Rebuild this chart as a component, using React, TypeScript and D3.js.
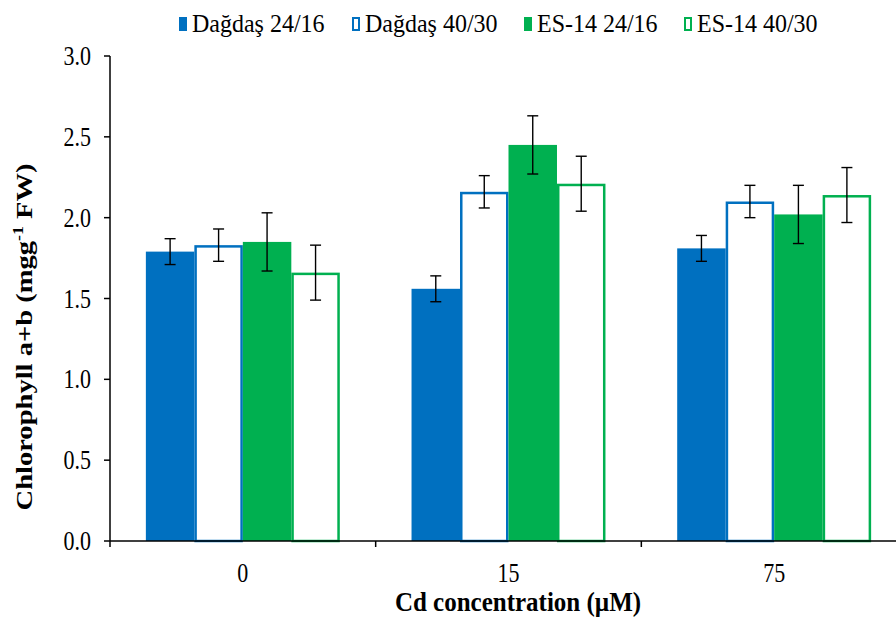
import * as d3 from "d3";

// Cd concentration (µM)
const categories = ["0", "15", "75"];
const seriesNames = ["Dağdaş 24/16", "Dağdaş 40/30", "ES-14 24/16", "ES-14 40/30"];

// chlorophyll a+b (mg g-1 FW)
const dagdas2416 = [1.79, 1.56, 1.81];
const dagdas4030 = [1.83, 2.16, 2.1];
const es2416 = [1.85, 2.45, 2.02];
const es4030 = [1.66, 2.21, 2.14];

// error bar half-lengths
const dagdas2416Err = [0.08, 0.08, 0.08];
const dagdas4030Err = [0.1, 0.1, 0.1];
const es2416Err = [0.18, 0.18, 0.18];
const es4030Err = [0.17, 0.17, 0.17];

const yTicks = [0, 0.5, 1, 1.5, 2, 2.5, 3];

const BLUE = "#0070C0";
const GREEN = "#00B050";
const FONT = "Liberation Serif, Times New Roman, serif";

const seriesStyle = [
  { fill: BLUE, stroke: "none" },
  { fill: "#ffffff", stroke: BLUE },
  { fill: GREEN, stroke: "none" },
  { fill: "#ffffff", stroke: GREEN },
];

// the source figure's text is a bit stretched vertically
function SText({ x, y, anchor = "start", size = 22, sy = 1, weight = "normal", children }: any) {
  return (
    <text
      transform={`translate(${x},${y}) scale(1,${sy})`}
      textAnchor={anchor}
      style={{ fontFamily: FONT, fontSize: size, fontWeight: weight }}
      fill="#000"
    >
      {children}
    </text>
  );
}

export default function App() {
  const width = 896;
  const height = 618;
  const plotLeft = 110;
  const plotRight = 907; // chart continues past the image edge
  const plotTop = 56;
  const plotBottom = 541;

  const values = [dagdas2416, dagdas4030, es2416, es4030];
  const errors = [dagdas2416Err, dagdas4030Err, es2416Err, es4030Err];

  const x0 = d3.scaleBand<string>().domain(categories).range([plotLeft, plotRight]).paddingInner(0.27).paddingOuter(0.135);
  const x1 = d3.scaleBand<string>().domain(seriesNames).range([0, x0.bandwidth()]).padding(0);
  const y = d3.scaleLinear().domain([0, 3]).range([plotBottom, plotTop]);
  const step = x0.step();
  const boundaries = categories.map((_, i) => plotLeft + i * step).concat([plotLeft + categories.length * step]);

  const legendX = [179, 352, 524, 684];

  return (
    <svg width={width} height={height} style={{ position: "absolute", left: 0, top: 0, background: "#fff" }}>
      {/* legend */}
      {seriesNames.map((name, i) => (
        <g key={name}>
          {seriesStyle[i].stroke === "none" ? (
            <rect x={legendX[i]} y={17} width={8} height={14} fill={seriesStyle[i].fill} />
          ) : (
            <rect x={legendX[i] + 1} y={18} width={6} height={12} fill="#fff" stroke={seriesStyle[i].stroke} strokeWidth={2} />
          )}
          <SText x={legendX[i] + 13} y={32} size={24} sy={1.05}>{name}</SText>
        </g>
      ))}

      {/* bars */}
      {seriesNames.map((name, si) =>
        categories.map((c, ci) => {
          const v = values[si][ci];
          const st = seriesStyle[si];
          const bx = (x0(c) as number) + (x1(name) as number);
          const w = x1.bandwidth();
          const hollow = st.stroke !== "none";
          return (
            <rect
              key={name + c}
              x={hollow ? bx + 1.25 : bx}
              y={y(v) + (hollow ? 1.25 : 0)}
              width={hollow ? w - 2.5 : w}
              height={y(0) - y(v) - (hollow ? 1.25 : 0)}
              fill={st.fill}
              stroke={st.stroke}
              strokeWidth={2.5}
            />
          );
        })
      )}

      {/* error bars */}
      {seriesNames.map((name, si) =>
        categories.map((c, ci) => {
          const v = values[si][ci];
          const e = errors[si][ci];
          const cx = (x0(c) as number) + (x1(name) as number) + x1.bandwidth() / 2;
          return (
            <g key={"e" + name + c} stroke="#000" strokeWidth={1.4}>
              <line x1={cx} x2={cx} y1={y(v + e)} y2={y(v - e)} />
              <line x1={cx - 5.5} x2={cx + 5.5} y1={y(v + e)} y2={y(v + e)} />
              <line x1={cx - 5.5} x2={cx + 5.5} y1={y(v - e)} y2={y(v - e)} />
            </g>
          );
        })
      )}

      {/* y axis */}
      <line x1={plotLeft} x2={plotLeft} y1={y(3)} y2={y(0)} stroke="#000" strokeWidth={1.5} />
      {yTicks.map((t) => (
        <g key={t}>
          <line x1={plotLeft - 6} x2={plotLeft} y1={y(t)} y2={y(t)} stroke="#000" strokeWidth={1.5} />
          <SText x={91} y={y(t) + 9} anchor="end" size={22} sy={1.2}>{d3.format(".1f")(t)}</SText>
        </g>
      ))}

      {/* x axis */}
      <line x1={plotLeft} x2={plotRight} y1={y(0)} y2={y(0)} stroke="#000" strokeWidth={1.5} />
      {boundaries.map((b, i) => (
        <line key={i} x1={b} x2={b} y1={y(0)} y2={y(0) + 6} stroke="#000" strokeWidth={1.5} />
      ))}
      {categories.map((c) => (
        <SText key={c} x={(x0(c) as number) + x0.bandwidth() / 2} y={582} anchor="middle" size={22} sy={1.25}>{c}</SText>
      ))}

      <SText x={518} y={611} anchor="middle" size={25} sy={1.05} weight="bold">Cd concentration (µM)</SText>

      <text
        transform="translate(32,337) rotate(-90) scale(1.19,1)"
        textAnchor="middle"
        style={{ fontFamily: FONT, fontSize: 24, fontWeight: "bold" }}
      >
        Chlorophyll a+b (mgg<tspan dy={-9} style={{ fontSize: 15 }}>-1</tspan>
        <tspan dy={9}> FW)</tspan>
      </text>
    </svg>
  );
}
